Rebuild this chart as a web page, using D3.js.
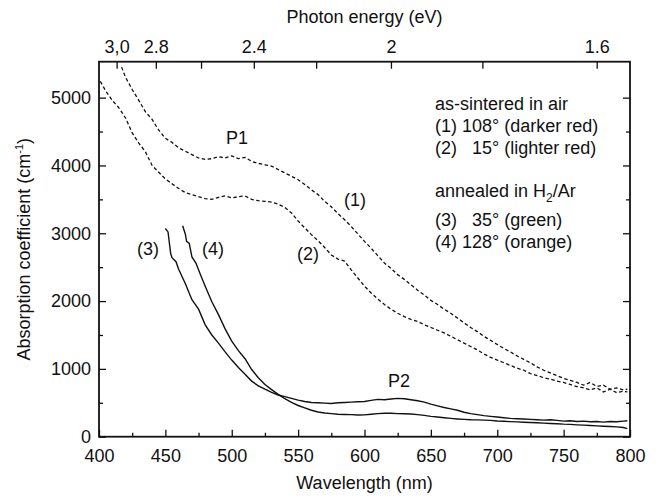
<!DOCTYPE html>
<html>
<head>
<meta charset="utf-8">
<script src="https://cdn.jsdelivr.net/npm/d3@7"></script>
<style>
  body { margin: 0; background: #fff; }
  text { font-family: "Liberation Sans", Arial, Helvetica, sans-serif; fill: #111; }
</style>
</head>
<body>
<div id="chart"></div>
<script>
// wavelength (nm) / absorption coefficient (cm^-1)
const wl1 = [417,420,425,430,435,440,445,450,455,460,465,470,475,480,485,490,495,500,505,510,515,520,525,530,535,540,545,550,555,560,565,570,575,580,585,590,595,600,605,610,615,620,625,630,635,640,645,650,655,660,665,670,675,680,685,690,695,700,705,710,715,720,725,730,735,740,745,750,755,760,765,770,775,780,785,790,795,798];
const abs1 = [5450,5300,5120,4960,4790,4680,4520,4400,4340,4260,4210,4160,4110,4090,4100,4130,4110,4140,4100,4120,4060,4030,4010,3990,3940,3890,3840,3790,3720,3640,3570,3470,3390,3290,3200,3100,2990,2880,2780,2670,2560,2480,2390,2320,2240,2160,2090,2010,1950,1880,1820,1750,1680,1610,1550,1480,1420,1360,1300,1250,1190,1140,1090,1030,980,940,900,860,830,800,760,800,740,760,700,720,690,700];

const wl2 = [401,405,410,415,420,425,430,435,440,445,450,455,460,465,470,475,480,485,490,495,500,505,510,515,520,525,530,535,540,545,550,555,560,565,570,575,580,585,590,595,600,605,610,615,620,625,630,635,640,645,650,655,660,665,670,675,680,685,690,695,700,705,710,715,720,725,730,735,740,745,750,755,760,765,770,775,780,785,790,795,798];
const abs2 = [5240,5100,4960,4850,4700,4480,4330,4200,4000,3900,3800,3730,3660,3600,3570,3540,3510,3500,3530,3550,3520,3540,3550,3500,3480,3470,3460,3430,3380,3300,3180,3080,2980,2890,2790,2680,2620,2590,2460,2340,2220,2120,2030,1950,1880,1820,1770,1730,1700,1650,1610,1570,1530,1480,1430,1380,1330,1280,1220,1170,1130,1090,1050,1010,980,930,900,870,850,820,800,770,740,720,690,720,660,700,650,670,660];

const wl3 = [450,452,454,455,458,460,465,470,475,480,485,490,495,500,505,510,515,520,525,530,535,540,545,550,555,560,565,570,575,580,585,590,595,600,605,610,615,620,625,630,635,640,645,650,655,660,665,670,675,680,685,690,695,700,705,710,715,720,725,730,735,740,745,750,755,760,765,770,775,780,785,790,795,798];
const abs3 = [3070,3020,2700,2640,2580,2470,2260,2020,1880,1650,1500,1380,1250,1130,1020,920,820,750,700,655,615,590,565,540,520,505,500,495,490,500,505,510,515,520,535,550,545,555,565,560,545,530,510,480,455,430,410,390,360,340,325,310,300,290,280,270,265,260,255,250,245,250,240,230,235,225,230,220,225,215,225,220,230,235];

const wl4 = [463,465,466,468,470,473,476,480,485,490,495,500,505,510,515,520,525,530,535,540,545,550,555,560,565,570,575,580,585,590,595,600,605,610,615,620,625,630,635,640,645,650,655,660,665,670,675,680,685,690,695,700,705,710,715,720,725,730,735,740,745,750,755,760,765,770,775,780,785,790,795,798];
const abs4 = [3110,2990,2880,2850,2650,2560,2410,2220,1990,1800,1590,1410,1270,1150,990,870,770,695,625,560,505,460,425,390,365,350,340,332,328,325,320,322,330,340,345,345,340,338,335,325,315,300,290,280,270,262,255,250,248,244,240,232,228,222,218,214,210,205,200,195,192,185,182,175,170,165,160,155,150,145,135,120];

const energyTicks = [3.0, 2.8, 2.6, 2.4, 2.2, 2.0, 1.8, 1.6];
const energyLabels = ["3,0", "2.8", "", "2.4", "", "2", "", "1.6"];
const wlMajor = [400,450,500,550,600,650,700,750,800];
const wlMinor = [425,475,525,575,625,675,725,775];
const absMajor = [0,1000,2000,3000,4000,5000];
const absMinor = [500,1500,2500,3500,4500];

const W = 659, H = 500;
const svg = d3.select("#chart").append("svg").attr("width", W).attr("height", H);

const x = d3.scaleLinear().domain([400, 800]).range([99, 630]);
const y = d3.scaleLinear().domain([0, 5530]).range([436.7, 61.7]);
const hc = 1239.84; // eV*nm

const fs = 18;

// bottom axis
const gB = svg.append("g").attr("transform", "translate(0," + y(0) + ")");
gB.call(d3.axisBottom(x).tickValues(wlMajor).tickSize(-7).tickPadding(13));
gB.append("g").call(d3.axisBottom(x).tickValues(wlMinor).tickSize(-4).tickFormat(""));
// top axis
const gT = svg.append("g").attr("transform", "translate(0," + y.range()[1] + ")");
gT.call(d3.axisTop(x).tickValues(energyTicks.map(e => hc / e)).tickSize(-7).tickPadding(9)
  .tickFormat((d, i) => energyLabels[i]));
// left axis
const gL = svg.append("g").attr("transform", "translate(" + x(400) + ",0)");
gL.call(d3.axisLeft(y).tickValues(absMajor).tickSize(-7).tickPadding(8).tickFormat(d3.format("d")));
gL.append("g").call(d3.axisLeft(y).tickValues(absMinor).tickSize(-4).tickFormat(""));
// right axis
const gR = svg.append("g").attr("transform", "translate(" + x(800) + ",0)");
gR.call(d3.axisRight(y).tickValues(absMajor).tickSize(-7).tickFormat(""));
gR.append("g").call(d3.axisRight(y).tickValues(absMinor).tickSize(-4).tickFormat(""));

svg.selectAll(".domain").remove();
svg.selectAll(".tick line").attr("stroke", "#111").attr("stroke-width", 1.3);
svg.selectAll(".tick text").style("font-size", fs + "px").attr("fill", "#111")
  .style("font-family", "'Liberation Sans', Arial, sans-serif");

// frame
svg.append("rect")
  .attr("x", x(400)).attr("y", y.range()[1])
  .attr("width", x(800) - x(400)).attr("height", y(0) - y.range()[1])
  .attr("fill", "none").attr("stroke", "#111").attr("stroke-width", 1.8);

// curves
svg.append("clipPath").attr("id", "clip").append("rect")
  .attr("x", x(400)).attr("y", y.range()[1])
  .attr("width", x(800) - x(400)).attr("height", y(0) - y.range()[1]);

const line = d3.line().x(d => x(d[0])).y(d => y(d[1]));
const series = [
  { wl: wl1, v: abs1, dash: "3.5,2.5" },
  { wl: wl2, v: abs2, dash: "3.5,2.5" },
  { wl: wl3, v: abs3, dash: null },
  { wl: wl4, v: abs4, dash: null }
];
const gC = svg.append("g").attr("clip-path", "url(#clip)");
series.forEach(s => {
  gC.append("path")
    .datum(s.wl.map((w, i) => [w, s.v[i]]))
    .attr("d", line)
    .attr("fill", "none")
    .attr("stroke", "#111")
    .attr("stroke-width", s.dash ? 1.3 : 1.4)
    .attr("stroke-dasharray", s.dash);
});

// curve labels
const labels = [
  { t: "P1", w: 504, a: 4317 },
  { t: "(1)", w: 592.8, a: 3403 },
  { t: "(2)", w: 557.4, a: 2606 },
  { t: "(3)", w: 436.9, a: 2680 },
  { t: "(4)", w: 485.9, a: 2680 },
  { t: "P2", w: 626, a: 733 }
];
svg.selectAll(".clab").data(labels).enter().append("text")
  .attr("class", "clab")
  .attr("x", d => x(d.w)).attr("y", d => y(d.a))
  .attr("text-anchor", "middle").style("font-size", fs + "px")
  .text(d => d.t);

// legend text
const lg = svg.append("g").style("font-size", fs + "px");
const lx = 435;
lg.append("text").attr("x", lx).attr("y", 109.5).text("as-sintered in air");
lg.append("text").attr("x", lx).attr("y", 132).text("(1) 108° (darker red)");
const t2 = lg.append("text").attr("x", lx).attr("y", 154).style("white-space", "pre");
t2.append("tspan").text("(2) ");
t2.append("tspan").attr("dx", "0.556em").text("15° (lighter red)");
const ta = lg.append("text").attr("x", lx).attr("y", 197);
ta.append("tspan").text("annealed in H");
ta.append("tspan").attr("dy", 5).style("font-size", "12px").text("2");
ta.append("tspan").attr("dy", -5).text("/Ar");
const t3 = lg.append("text").attr("x", lx).attr("y", 226).style("white-space", "pre");
t3.append("tspan").text("(3) ");
t3.append("tspan").attr("dx", "0.556em").text("35° (green)");
lg.append("text").attr("x", lx).attr("y", 248).text("(4) 128° (orange)");

// axis titles
const cx = (x(400) + x(800)) / 2;
svg.append("text").attr("x", cx).attr("y", 489).attr("text-anchor", "middle")
  .style("font-size", fs + "px").text("Wavelength (nm)");
svg.append("text").attr("x", cx).attr("y", 23).attr("text-anchor", "middle")
  .style("font-size", fs + "px").text("Photon energy (eV)");
const yt = svg.append("text")
  .attr("transform", "translate(30," + ((y(0) + y.range()[1]) / 2) + ") rotate(-90)")
  .attr("text-anchor", "middle").style("font-size", fs + "px");
yt.append("tspan").text("Absorption coefficient (cm");
yt.append("tspan").attr("dy", -7).style("font-size", "11px").text("-1");
yt.append("tspan").attr("dy", 7).text(")");
</script>
</body>
</html>
